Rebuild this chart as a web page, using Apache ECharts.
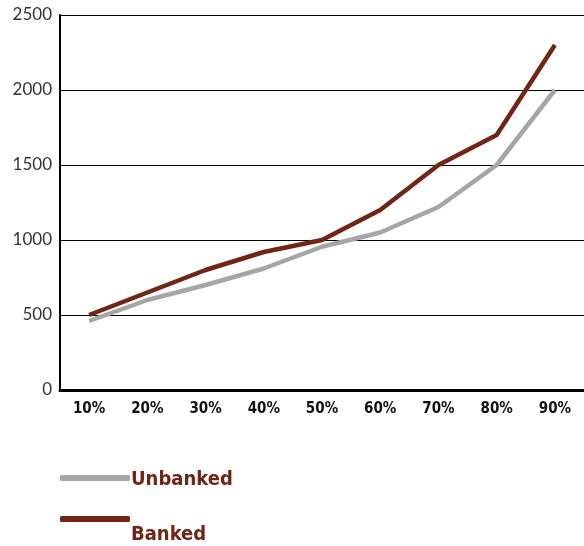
<!DOCTYPE html>
<html><head><meta charset="utf-8">
<script src="https://cdn.jsdelivr.net/npm/echarts@6/dist/echarts.min.js"></script>
<style>html,body{margin:0;padding:0;background:#fff}#c{width:584px;height:546px}</style>
</head><body><div id="c"></div>
<script>
var categories = ['10%','20%','30%','40%','50%','60%','70%','80%','90%'];
var unbanked = [460, 600, 700, 810, 955, 1050, 1220, 1500, 2000];
var banked = [500, 650, 800, 920, 1000, 1200, 1500, 1700, 2300];
var yTicks = [0, 500, 1000, 1500, 2000, 2500];

var condensed = "'DejaVu Sans Condensed', 'DejaVu Sans', sans-serif";
var chart = echarts.init(document.getElementById('c'));
chart.setOption({
  animation: false,
  grid: {left: 60, right: 0, top: 15, bottom: 156},
  legend: [{
    data: ['Unbanked'], orient: 'vertical', left: 60, top: 470, padding: 0,
    itemWidth: 70, itemHeight: 6, itemGap: 0,
    icon: 'roundRect',
    formatter: '{a|{name}}',
    textStyle: {rich: {a: {color: '#722514', fontWeight: 'bold', fontSize: 20, fontFamily: condensed, padding: [4, 0, 0, -4]}}}
  }, {
    data: ['Banked'], orient: 'vertical', left: 60, top: 516, padding: 0,
    itemWidth: 70, itemHeight: 6, itemGap: 0,
    icon: 'roundRect',
    formatter: '{a|{name}}',
    textStyle: {rich: {a: {color: '#722514', fontWeight: 'bold', fontSize: 20, fontFamily: condensed, padding: [32, 0, 0, -4]}}}
  }],
  xAxis: {
    type: 'category', data: categories, boundaryGap: true,
    axisLine: {lineStyle: {color: '#000', width: 3}},
    axisTick: {show: false},
    axisLabel: {color: '#111', fontSize: 15, fontWeight: 'bold', fontFamily: condensed, margin: 12}
  },
  yAxis: {
    type: 'value', min: 0, max: 2500, interval: 500,
    axisLine: {show: true, lineStyle: {color: '#000', width: 2}},
    axisTick: {show: false},
    splitLine: {lineStyle: {color: '#000', width: 1}},
    axisLabel: {color: '#333', fontSize: 17, fontFamily: 'Lato', margin: 8,
      formatter: function(v){ return yTicks.indexOf(v) >= 0 ? String(v) : ''; }}
  },
  series: [{
    name: 'Unbanked', type: 'line', data: unbanked, symbol: 'none',
    lineStyle: {color: '#a6a6a6', width: 4.5}, itemStyle: {color: '#a6a6a6'}
  }, {
    name: 'Banked', type: 'line', data: banked, symbol: 'none',
    lineStyle: {color: '#722514', width: 4.5}, itemStyle: {color: '#722514'}
  }]
});
</script></body></html>
